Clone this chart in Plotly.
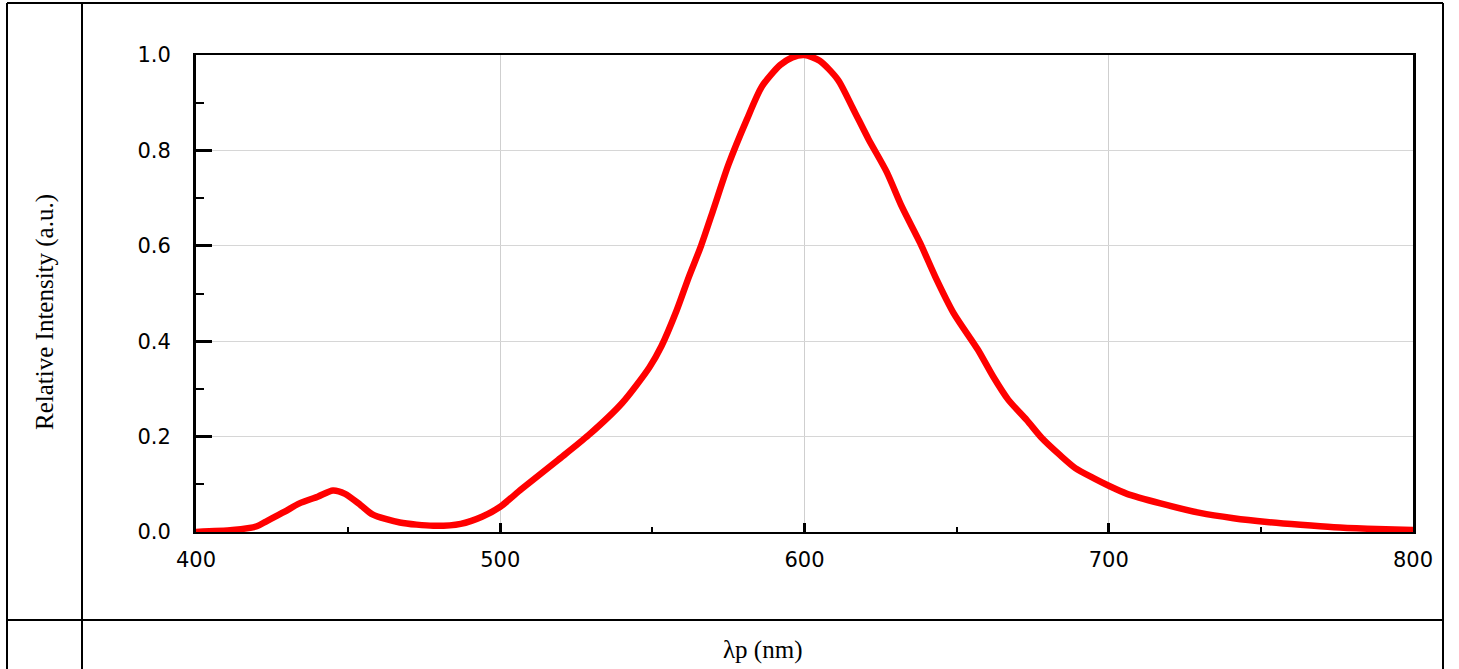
import plotly.graph_objects as go

wavelength = [400, 412, 420, 423, 429, 434, 440, 445, 449, 454, 458, 467, 478, 487, 494,
              500, 507, 519, 529, 540, 549, 553, 558, 562, 566, 570, 575, 581, 586, 592,
              596, 600, 605, 611, 616, 621, 627, 632, 638, 643, 649, 657, 662, 667, 673,
              678, 684, 689, 695, 700, 706, 717, 730, 741, 752, 763, 774, 785, 800]
intensity = [0.0, 0.004, 0.012, 0.022, 0.042, 0.060, 0.074, 0.087, 0.080, 0.057, 0.037, 0.020, 0.013, 0.017, 0.032,
             0.053, 0.090, 0.151, 0.203, 0.270, 0.345, 0.390, 0.465, 0.535, 0.600, 0.675, 0.770, 0.864, 0.934, 0.979,
             0.995, 1.0, 0.988, 0.948, 0.887, 0.824, 0.755, 0.682, 0.606, 0.535, 0.459, 0.382, 0.326, 0.277, 0.235,
             0.197, 0.161, 0.134, 0.113, 0.097, 0.080, 0.060, 0.040, 0.029, 0.021, 0.015, 0.010, 0.007, 0.004]

x_ticks = [400, 500, 600, 700, 800]
y_ticks = [0.0, 0.2, 0.4, 0.6, 0.8, 1.0]
x_title = "λp (nm)"
y_title = "Relative Intensity (a.u.)"

W, H = 1459, 669
L, R, T, B = 196, 1413, 55, 532


def px(xp):
    return (xp - L) / (R - L)


def py(yp):
    return (B - yp) / (B - T)


fig = go.Figure()
fig.add_trace(go.Scatter(x=wavelength, y=intensity, mode="lines",
                         line=dict(color="#ff0000", width=6.5, shape="spline", smoothing=0.7),
                         hoverinfo="skip", showlegend=False))

tickfont = dict(family="DejaVu Sans", size=21, color="black")

fig.update_xaxes(range=[400, 800], tickvals=x_ticks, ticktext=[str(v) for v in x_ticks],
                 showline=True, linecolor="black", linewidth=2, mirror=True,
                 ticks="inside", ticklen=9, tickwidth=2.5, tickcolor="black",
                 minor=dict(dtick=50, tick0=400, ticks="inside", ticklen=5, tickwidth=2, tickcolor="black", showgrid=False),
                 showgrid=True, gridcolor="#cfcfcf", gridwidth=1,
                 tickfont=tickfont, ticklabelstandoff=8, zeroline=False, fixedrange=True)
fig.update_yaxes(range=[0, 1.0], tickvals=y_ticks, ticktext=["%.1f" % v for v in y_ticks],
                 showline=True, linecolor="black", linewidth=3, mirror=True,
                 ticks="inside", ticklen=16, tickwidth=2.5, tickcolor="black",
                 minor=dict(dtick=0.1, tick0=0, ticks="inside", ticklen=8, tickwidth=2, tickcolor="black", showgrid=False),
                 showgrid=True, gridcolor="#d6d6d6", gridwidth=1,
                 tickfont=tickfont, ticklabelstandoff=18, zeroline=False, fixedrange=True)

line = dict(color="black", width=2)
shapes = [
    dict(type="line", xref="paper", yref="paper", x0=px(7), x1=px(1443), y0=py(3), y1=py(3), line=line),
    dict(type="line", xref="paper", yref="paper", x0=px(7), x1=px(7), y0=py(3), y1=py(675), line=line),
    dict(type="line", xref="paper", yref="paper", x0=px(82), x1=px(82), y0=py(3), y1=py(675), line=line),
    dict(type="line", xref="paper", yref="paper", x0=px(1443), x1=px(1443), y0=py(3), y1=py(675), line=line),
    dict(type="line", xref="paper", yref="paper", x0=px(7), x1=px(1443), y0=py(620), y1=py(620), line=line),
]

annotations = [
    dict(text=y_title, xref="paper", yref="paper", x=px(45), y=py(312), showarrow=False,
         textangle=-90, xanchor="center", yanchor="middle",
         font=dict(family="Liberation Serif", size=25, color="black")),
    dict(text=x_title, xref="paper", yref="paper", x=px(762), y=py(650), showarrow=False,
         xanchor="center", yanchor="middle",
         font=dict(family="Liberation Serif", size=25, color="black")),
]

fig.update_layout(width=W, height=H, margin=dict(l=L, r=W - R, t=T, b=H - B),
                  paper_bgcolor="white", plot_bgcolor="white",
                  shapes=shapes, annotations=annotations, showlegend=False)

fig.write_html("out.html", config={"displayModeBar": False})
